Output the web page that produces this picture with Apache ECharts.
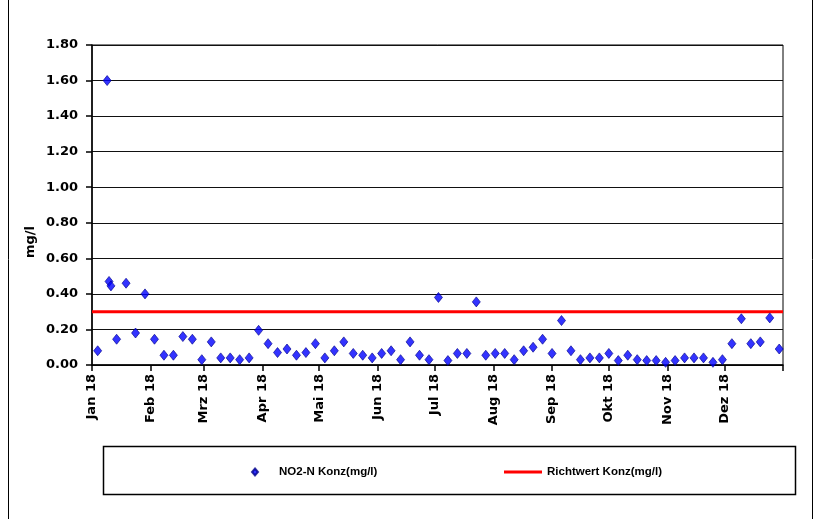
<!DOCTYPE html>
<html>
<head>
<meta charset="utf-8">
<script src="https://cdn.jsdelivr.net/npm/echarts@6/dist/echarts.min.js"></script>
<style>
  html, body { margin: 0; padding: 0; background: #fff; }
  #chart { width: 820px; height: 519px; }
</style>
</head>
<body>
<div id="chart"></div>
<script>
// NO2-N measurements 2018 (mg/l)
const sampleDates = [
  '2018-01-04', '2018-01-09', '2018-01-10', '2018-01-11', '2018-01-14', '2018-01-19',
  '2018-01-24', '2018-01-29', '2018-02-03', '2018-02-08', '2018-02-13', '2018-02-18',
  '2018-02-23', '2018-02-28', '2018-03-05', '2018-03-10', '2018-03-15', '2018-03-20',
  '2018-03-25', '2018-03-30', '2018-04-04', '2018-04-09', '2018-04-14', '2018-04-19',
  '2018-04-24', '2018-04-29', '2018-05-04', '2018-05-09', '2018-05-14', '2018-05-19',
  '2018-05-24', '2018-05-29', '2018-06-03', '2018-06-08', '2018-06-13', '2018-06-18',
  '2018-06-23', '2018-06-28', '2018-07-03', '2018-07-08', '2018-07-13', '2018-07-18',
  '2018-07-23', '2018-07-28', '2018-08-02', '2018-08-07', '2018-08-12', '2018-08-17',
  '2018-08-22', '2018-08-27', '2018-09-01', '2018-09-06', '2018-09-11', '2018-09-16',
  '2018-09-21', '2018-09-26', '2018-10-01', '2018-10-06', '2018-10-11', '2018-10-16',
  '2018-10-21', '2018-10-26', '2018-10-31', '2018-11-05', '2018-11-10', '2018-11-15',
  '2018-11-20', '2018-11-25', '2018-11-30', '2018-12-05', '2018-12-10', '2018-12-15',
  '2018-12-20', '2018-12-25', '2018-12-30'
];
const no2Values = [
  0.08, 1.60, 0.47, 0.445, 0.145, 0.46,
  0.18, 0.40, 0.145, 0.055, 0.055, 0.16,
  0.145, 0.03, 0.13, 0.04, 0.04, 0.03,
  0.04, 0.195, 0.12, 0.07, 0.09, 0.055,
  0.07, 0.12, 0.04, 0.08, 0.13, 0.065,
  0.055, 0.04, 0.065, 0.08, 0.03, 0.13,
  0.055, 0.03, 0.38, 0.025, 0.065, 0.065,
  0.355, 0.055, 0.065, 0.065, 0.03, 0.08,
  0.10, 0.145, 0.065, 0.25, 0.08, 0.03,
  0.04, 0.04, 0.065, 0.025, 0.055, 0.03,
  0.025, 0.025, 0.015, 0.025, 0.04, 0.04,
  0.04, 0.015, 0.03, 0.12, 0.26, 0.12,
  0.13, 0.265, 0.09
];

// guideline value
const richtwertDates = ['2018-01-01', '2019-01-01'];
const richtwertValues = [0.30, 0.30];

// axis labelling
const monthLabels = ['Jan 18', 'Feb 18', 'Mrz 18', 'Apr 18', 'Mai 18', 'Jun 18',
                     'Jul 18', 'Aug 18', 'Sep 18', 'Okt 18', 'Nov 18', 'Dez 18'];
const yTicks = [0, 0.2, 0.4, 0.6, 0.8, 1.0, 1.2, 1.4, 1.6, 1.8];

const seriesNo2 = 'NO2-N Konz(mg/l)';
const seriesRichtwert = 'Richtwert Konz(mg/l)';

const DAY = 86400000;
const toTime = s => { const p = s.split('-').map(Number); return Date.UTC(p[0], p[1] - 1, p[2]); };
const monthStarts = monthLabels.map((_, i) => Date.UTC(2018, i, 1));
const axisEnd = Date.UTC(2019, 0, 1);

const axisFont = { fontFamily: 'DejaVu Sans', fontWeight: 'bold', fontSize: 13, color: '#000' };

const chart = echarts.init(document.getElementById('chart'), null, { renderer: 'canvas' });
chart.setOption({
  backgroundColor: '#fff',
  animation: false,
  grid: {
    left: 92, right: 37, top: 45, bottom: 154,
    show: true, borderColor: '#000', borderWidth: 1
  },
  xAxis: {
    type: 'value',
    min: monthStarts[0],
    max: axisEnd,
    axisLine: { lineStyle: { color: '#000', width: 1.5 } },
    axisTick: { show: true, length: 6, lineStyle: { color: '#000', width: 1.5 },
                customValues: monthStarts.concat([axisEnd]) },
    axisLabel: Object.assign({
      rotate: 90, margin: 9, customValues: monthStarts,
      formatter: v => {
        const idx = monthStarts.findIndex(m => Math.abs(m - v) < DAY / 2);
        return idx >= 0 ? monthLabels[idx] : '';
      }
    }, axisFont),
    splitLine: { show: false }
  },
  yAxis: {
    type: 'value',
    min: yTicks[0],
    max: yTicks[yTicks.length - 1],
    interval: 0.2,
    axisLine: { show: true, lineStyle: { color: '#000', width: 1.5 } },
    axisTick: { show: true, length: 6, lineStyle: { color: '#000', width: 1.5 } },
    axisLabel: Object.assign({ margin: 14, formatter: v => v.toFixed(2) }, axisFont),
    splitLine: { show: true, lineStyle: { color: '#111', width: 1.2 } }
  },
  legend: [
    {
      data: [seriesNo2], left: 246, top: 461,
      icon: 'diamond', itemWidth: 6, itemHeight: 7,
      textStyle: { fontFamily: 'Liberation Sans', fontWeight: 'bold', fontSize: 11.5, color: '#000', padding: [0, 0, 0, 16] }
    },
    {
      data: [seriesRichtwert], left: 499, top: 461,
      icon: 'rect', itemWidth: 38, itemHeight: 3,
      textStyle: { fontFamily: 'Liberation Sans', fontWeight: 'bold', fontSize: 11.5, color: '#000' }
    }
  ],
  graphic: [
    // outer chart frame
    { type: 'rect', shape: { x: 8.5, y: -5, width: 804, height: 540 },
      style: { fill: 'none', stroke: '#000', lineWidth: 1 }, silent: true, z: -10 },
    // legend frame
    { type: 'rect', shape: { x: 103.5, y: 446.5, width: 692, height: 48 },
      style: { fill: 'none', stroke: '#000', lineWidth: 1.5 }, silent: true },
    // y-axis title
    { type: 'text', x: 31, y: 242, rotation: Math.PI / 2,
      style: { text: 'mg/l', fontFamily: 'DejaVu Sans', fontWeight: 'bold', fontSize: 13,
               fill: '#000', align: 'center', verticalAlign: 'middle' } }
  ],
  series: [
    {
      name: seriesRichtwert,
      type: 'line',
      data: richtwertDates.map((d, i) => [toTime(d), richtwertValues[i]]),
      symbol: 'none',
      lineStyle: { color: '#ff0000', width: 3 },
      itemStyle: { color: '#ff0000' },
      z: 2
    },
    {
      name: seriesNo2,
      type: 'scatter',
      data: sampleDates.map((d, i) => [toTime(d), no2Values[i]]),
      symbol: 'diamond',
      symbolSize: [8, 10],
      itemStyle: { color: '#0000ff', borderColor: '#00008b', borderWidth: 0.8 },
      z: 3
    }
  ]
});
</script>
</body>
</html>
